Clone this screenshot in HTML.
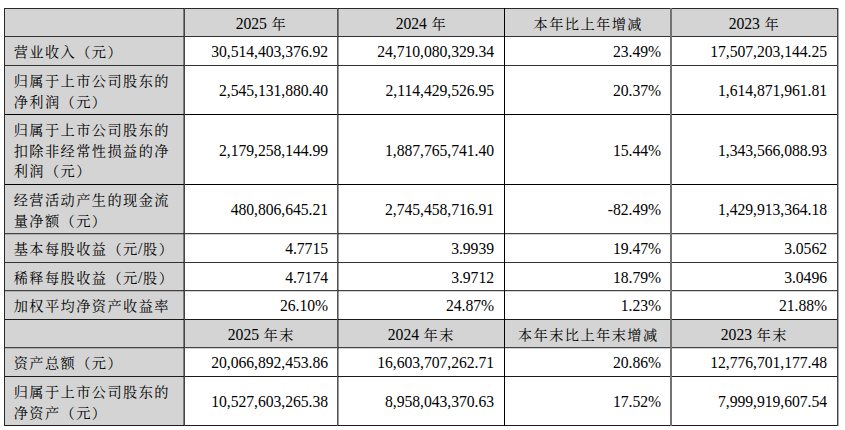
<!DOCTYPE html>
<html lang="zh-CN"><head><meta charset="utf-8"><title>主要会计数据</title>
<style>
html,body{margin:0;padding:0;background:#fff;}
body{width:845px;height:430px;position:relative;overflow:hidden;
font-family:"Liberation Serif","Noto Serif CJK SC",serif;font-size:15.7px;color:#000;letter-spacing:-0.05px;}
.g{position:absolute;background:#d4d4d4;}
.h{position:absolute;height:1px;background:#1a1a1a;}
.v{position:absolute;width:1px;background:#1a1a1a;}
.c{position:absolute;display:flex;align-items:center;line-height:20.5px;box-sizing:border-box;white-space:nowrap;}
.c>div{position:relative;}
.l{justify-content:flex-start;padding-left:8px;}
.r{justify-content:flex-end;padding-right:10px;}
.c2{padding-right:9px}.c4{padding-right:9px}
.m{justify-content:center;}
.k{font-size:14.2px;letter-spacing:1.44px;margin-left:0.72px;margin-right:-0.72px;}
.l>div{top:1.5px}
.r>div{top:1.2px}
.m>div{top:2px}
</style></head><body>

<div class="g" style="left:4px;top:8px;width:833px;height:28px"></div>
<div class="g" style="left:4px;top:36px;width:180px;height:29px"></div>
<div class="g" style="left:4px;top:65px;width:180px;height:49px"></div>
<div class="g" style="left:4px;top:114px;width:180px;height:70px"></div>
<div class="g" style="left:4px;top:184px;width:180px;height:49px"></div>
<div class="g" style="left:4px;top:233px;width:180px;height:29px"></div>
<div class="g" style="left:4px;top:262px;width:180px;height:28px"></div>
<div class="g" style="left:4px;top:290px;width:180px;height:29px"></div>
<div class="g" style="left:4px;top:319px;width:833px;height:28px"></div>
<div class="g" style="left:4px;top:347px;width:180px;height:29px"></div>
<div class="g" style="left:4px;top:376px;width:180px;height:49px"></div>
<div class="c l" style="left:5px;top:9px;width:179px;height:27px"><div></div></div>
<div class="c m" style="left:185px;top:9px;width:152px;height:27px"><div>2025 <span class="k">年</span></div></div>
<div class="c m" style="left:338px;top:9px;width:166px;height:27px"><div>2024 <span class="k">年</span></div></div>
<div class="c m" style="left:505px;top:9px;width:165px;height:27px"><div><span class="k">本年比上年增减</span></div></div>
<div class="c m" style="left:671px;top:9px;width:166px;height:27px"><div>2023 <span class="k">年</span></div></div>
<div class="c l" style="left:5px;top:37px;width:179px;height:28px"><div><span class="k">营业收入（元）</span></div></div>
<div class="c r c2" style="left:185px;top:37px;width:152px;height:28px"><div>30,514,403,376.92</div></div>
<div class="c r c3" style="left:338px;top:37px;width:166px;height:28px"><div>24,710,080,329.34</div></div>
<div class="c r c4" style="left:505px;top:37px;width:165px;height:28px"><div>23.49%</div></div>
<div class="c r c5" style="left:671px;top:37px;width:166px;height:28px"><div>17,507,203,144.25</div></div>
<div class="c l" style="left:5px;top:66px;width:179px;height:48px"><div><span class="k">归属于上市公司股东的</span><br><span class="k">净利润（元）</span></div></div>
<div class="c r c2" style="left:185px;top:66px;width:152px;height:48px"><div>2,545,131,880.40</div></div>
<div class="c r c3" style="left:338px;top:66px;width:166px;height:48px"><div>2,114,429,526.95</div></div>
<div class="c r c4" style="left:505px;top:66px;width:165px;height:48px"><div>20.37%</div></div>
<div class="c r c5" style="left:671px;top:66px;width:166px;height:48px"><div>1,614,871,961.81</div></div>
<div class="c l" style="left:5px;top:115px;width:179px;height:69px"><div><span class="k">归属于上市公司股东的</span><br><span class="k">扣除非经常性损益的净</span><br><span class="k">利润（元）</span></div></div>
<div class="c r c2" style="left:185px;top:115px;width:152px;height:69px"><div style="top:2.2px">2,179,258,144.99</div></div>
<div class="c r c3" style="left:338px;top:115px;width:166px;height:69px"><div style="top:2.2px">1,887,765,741.40</div></div>
<div class="c r c4" style="left:505px;top:115px;width:165px;height:69px"><div style="top:2.2px">15.44%</div></div>
<div class="c r c5" style="left:671px;top:115px;width:166px;height:69px"><div style="top:2.2px">1,343,566,088.93</div></div>
<div class="c l" style="left:5px;top:185px;width:179px;height:48px"><div><span class="k">经营活动产生的现金流</span><br><span class="k">量净额（元）</span></div></div>
<div class="c r c2" style="left:185px;top:185px;width:152px;height:48px"><div>480,806,645.21</div></div>
<div class="c r c3" style="left:338px;top:185px;width:166px;height:48px"><div>2,745,458,716.91</div></div>
<div class="c r c4" style="left:505px;top:185px;width:165px;height:48px"><div>-82.49%</div></div>
<div class="c r c5" style="left:671px;top:185px;width:166px;height:48px"><div>1,429,913,364.18</div></div>
<div class="c l" style="left:5px;top:234px;width:179px;height:28px"><div><span class="k">基本每股收益（元</span>/<span class="k">股）</span></div></div>
<div class="c r c2" style="left:185px;top:234px;width:152px;height:28px"><div>4.7715</div></div>
<div class="c r c3" style="left:338px;top:234px;width:166px;height:28px"><div>3.9939</div></div>
<div class="c r c4" style="left:505px;top:234px;width:165px;height:28px"><div>19.47%</div></div>
<div class="c r c5" style="left:671px;top:234px;width:166px;height:28px"><div>3.0562</div></div>
<div class="c l" style="left:5px;top:263px;width:179px;height:27px"><div><span class="k">稀释每股收益（元</span>/<span class="k">股）</span></div></div>
<div class="c r c2" style="left:185px;top:263px;width:152px;height:27px"><div style="top:2.2px">4.7174</div></div>
<div class="c r c3" style="left:338px;top:263px;width:166px;height:27px"><div style="top:2.2px">3.9712</div></div>
<div class="c r c4" style="left:505px;top:263px;width:165px;height:27px"><div style="top:2.2px">18.79%</div></div>
<div class="c r c5" style="left:671px;top:263px;width:166px;height:27px"><div style="top:2.2px">3.0496</div></div>
<div class="c l" style="left:5px;top:291px;width:179px;height:28px"><div><span class="k">加权平均净资产收益率</span></div></div>
<div class="c r c2" style="left:185px;top:291px;width:152px;height:28px"><div>26.10%</div></div>
<div class="c r c3" style="left:338px;top:291px;width:166px;height:28px"><div>24.87%</div></div>
<div class="c r c4" style="left:505px;top:291px;width:165px;height:28px"><div>1.23%</div></div>
<div class="c r c5" style="left:671px;top:291px;width:166px;height:28px"><div>21.88%</div></div>
<div class="c l" style="left:5px;top:320px;width:179px;height:27px"><div></div></div>
<div class="c m" style="left:185px;top:320px;width:152px;height:27px"><div>2025 <span class="k">年末</span></div></div>
<div class="c m" style="left:338px;top:320px;width:166px;height:27px"><div>2024 <span class="k">年末</span></div></div>
<div class="c m" style="left:505px;top:320px;width:165px;height:27px"><div><span class="k">本年末比上年末增减</span></div></div>
<div class="c m" style="left:671px;top:320px;width:166px;height:27px"><div>2023 <span class="k">年末</span></div></div>
<div class="c l" style="left:5px;top:348px;width:179px;height:28px"><div><span class="k">资产总额（元）</span></div></div>
<div class="c r c2" style="left:185px;top:348px;width:152px;height:28px"><div>20,066,892,453.86</div></div>
<div class="c r c3" style="left:338px;top:348px;width:166px;height:28px"><div>16,603,707,262.71</div></div>
<div class="c r c4" style="left:505px;top:348px;width:165px;height:28px"><div>20.86%</div></div>
<div class="c r c5" style="left:671px;top:348px;width:166px;height:28px"><div>12,776,701,177.48</div></div>
<div class="c l" style="left:5px;top:377px;width:179px;height:48px"><div><span class="k">归属于上市公司股东的</span><br><span class="k">净资产（元）</span></div></div>
<div class="c r c2" style="left:185px;top:377px;width:152px;height:48px"><div>10,527,603,265.38</div></div>
<div class="c r c3" style="left:338px;top:377px;width:166px;height:48px"><div>8,958,043,370.63</div></div>
<div class="c r c4" style="left:505px;top:377px;width:165px;height:48px"><div>17.52%</div></div>
<div class="c r c5" style="left:671px;top:377px;width:166px;height:48px"><div>7,999,919,607.54</div></div>
<div class="h" style="left:4px;top:8px;width:834px;background:#2a2a2a"></div>
<div class="h" style="left:4px;top:36px;width:834px;background:#333"></div>
<div class="h" style="left:4px;top:65px;width:834px;background:#333"></div>
<div class="h" style="left:4px;top:114px;width:834px;background:#000"></div>
<div class="h" style="left:4px;top:184px;width:834px;background:#000"></div>
<div class="h" style="left:4px;top:233px;width:834px;background:#444"></div>
<div class="h" style="left:4px;top:234px;width:834px;background:rgba(0,0,0,0.18)"></div>
<div class="h" style="left:4px;top:262px;width:834px;background:#333"></div>
<div class="h" style="left:4px;top:290px;width:834px;background:#444"></div>
<div class="h" style="left:4px;top:291px;width:834px;background:rgba(0,0,0,0.18)"></div>
<div class="h" style="left:4px;top:319px;width:834px;background:#1a1a1a"></div>
<div class="h" style="left:4px;top:347px;width:834px;background:#444"></div>
<div class="h" style="left:4px;top:348px;width:834px;background:rgba(0,0,0,0.18)"></div>
<div class="h" style="left:4px;top:376px;width:834px;background:#1c1c1c"></div>
<div class="h" style="left:4px;top:425px;width:834px;background:#1c1c1c"></div>
<div class="v" style="left:4px;top:8px;height:418px;background:#2a2a2a"></div>
<div class="v" style="left:184px;top:8px;height:418px;background:#444"></div>
<div class="v" style="left:183px;top:8px;height:418px;background:rgba(0,0,0,0.4)"></div>
<div class="v" style="left:337px;top:8px;height:418px;background:#555"></div>
<div class="v" style="left:338px;top:8px;height:418px;background:rgba(0,0,0,0.4)"></div>
<div class="v" style="left:504px;top:8px;height:418px;background:#000"></div>
<div class="v" style="left:670px;top:8px;height:418px;background:#727272"></div>
<div class="v" style="left:671px;top:8px;height:418px;background:#727272"></div>
<div class="v" style="left:837px;top:8px;height:418px;background:#444"></div>
<div class="v" style="left:838px;top:8px;height:418px;background:rgba(0,0,0,0.32)"></div>
</body></html>
